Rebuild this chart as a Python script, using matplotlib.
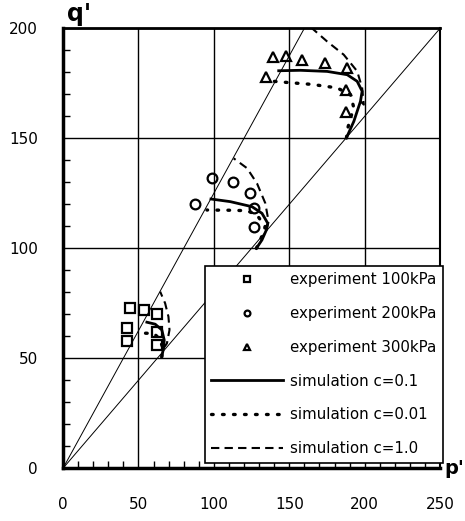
#Script: p'-q' stress paths, experiment vs simulation
import matplotlib.pyplot as plt
import numpy as np
from matplotlib.ticker import MultipleLocator

#Experiment data (p', q')
p_100 = [44.5, 53.8, 62.6, 42.3, 42.3, 62.6, 62.6]
q_100 = [73.0, 72.0, 70.0, 63.9, 58.0, 62.1, 56.0]
p_200 = [98.7, 112.4, 124.2, 87.2, 126.8, 126.8]
q_200 = [132.1, 130.0, 125.0, 120.0, 118.2, 109.8]
p_300 = [139.2, 147.9, 158.5, 173.5, 188.4, 134.6, 187.7, 187.7]
q_300 = [186.8, 187.4, 185.6, 184.1, 181.8, 177.7, 172.0, 162.1]

#Simulation c=0.1 (solid)
sp_100 = [65.5, 66.6, 67.1, 65.5, 61.1, 55.6]
sq_100 = [50.7, 54.5, 58.3, 62.9, 65.5, 66.4]
sp_200 = [128.2, 131.9, 134.8, 135.7, 131.9, 125.3, 110.9, 98.1]
sq_200 = [100.0, 103.8, 108.3, 111.4, 115.9, 118.9, 121.2, 122.4]
sp_300 = [187.9, 192.8, 197.2, 198.3, 195.0, 188.4, 175.1, 157.4, 143.0]
sq_300 = [150.2, 157.7, 166.8, 171.4, 175.9, 178.9, 180.4, 180.9, 180.7]

#Simulation c=0.01 (dotted)
dp_100 = [65.5, 66.0, 64.0, 60.0, 54.4]
dq_100 = [50.7, 55.0, 59.0, 61.3, 61.4]
dp_200 = [128.2, 131.0, 134.1, 128.6, 122.0, 110.0, 95.4]
dq_200 = [100.0, 104.0, 109.8, 115.1, 117.1, 117.3, 117.4]
dp_300 = [187.9, 188.8, 190.6, 192.8, 190.6, 181.7, 165.0, 150.0, 139.6]
dq_300 = [150.2, 154.7, 159.2, 163.8, 169.8, 172.9, 174.5, 175.3, 175.9]

#Simulation c=1.0 (dashed)
cp_100 = [66.6, 68.9, 70.6, 69.9, 67.7, 64.4]
cq_100 = [54.5, 56.8, 62.9, 68.9, 75.0, 80.3]
cp_200 = [134.8, 136.3, 134.1, 128.6, 122.0, 113.1]
cq_200 = [108.3, 112.1, 120.5, 129.5, 136.4, 140.9]
cp_300 = [197.2, 199.4, 198.3, 195.0, 186.1, 175.1, 165.1, 162.0]
cq_300 = [166.8, 165.3, 172.9, 180.5, 188.0, 194.0, 200.0, 203.0]

#Reference lines through origin
p_line = np.array([0, 250])
slope_a = 1.25
slope_b = 0.8

fig = plt.figure(figsize=(4.65, 5.21), dpi=100)
ax = fig.add_axes([0.1355, 0.1012, 0.811, 0.8445])

ax.plot(p_line, slope_a * p_line, color='k', lw=0.7)
ax.plot(p_line, slope_b * p_line, color='k', lw=0.7)

mk = dict(linestyle='none', markerfacecolor='none', markeredgecolor='k', markeredgewidth=1.6, markersize=7)
ax.plot(p_100, q_100, marker='s', label='experiment 100kPa', **mk)
ax.plot(p_200, q_200, marker='o', label='experiment 200kPa', **mk)
ax.plot(p_300, q_300, marker='^', label='experiment 300kPa', **mk)

for i, (x, y) in enumerate([(sp_100, sq_100), (sp_200, sq_200), (sp_300, sq_300)]):
    ax.plot(x, y, color='k', lw=2, label='simulation c=0.1' if i == 0 else None)
for i, (x, y) in enumerate([(dp_100, dq_100), (dp_200, dq_200), (dp_300, dq_300)]):
    ax.plot(x, y, color='k', lw=2.4, linestyle=(0, (0.5, 2.8)), dash_capstyle='round',
            label='simulation c=0.01' if i == 0 else None)
for i, (x, y) in enumerate([(cp_100, cq_100), (cp_200, cq_200), (cp_300, cq_300)]):
    ax.plot(x, y, color='k', lw=1.5, linestyle=(0, (4, 2.5)),
            label='simulation c=1.0' if i == 0 else None)

#Axes configuration
ax.set_xlim(0, 250)
ax.set_ylim(0, 200)
ax.xaxis.set_major_locator(MultipleLocator(50))
ax.yaxis.set_major_locator(MultipleLocator(50))
ax.xaxis.set_minor_locator(MultipleLocator(10))
ax.yaxis.set_minor_locator(MultipleLocator(10))
ax.grid(which='major', color='k', lw=1)
ax.tick_params(which='major', length=0, labelsize=11)
ax.tick_params(axis='x', which='major', pad=21)
ax.tick_params(axis='y', which='major', pad=18)
ax.tick_params(which='minor', direction='in', length=5, width=1)
ax.tick_params(axis='x', which='minor', top=False)
ax.tick_params(axis='y', which='minor', right=False)
ax.spines['left'].set_linewidth(2.5)
ax.spines['bottom'].set_linewidth(2.5)
ax.spines['top'].set_linewidth(2)
ax.spines['right'].set_linewidth(1.5)

ax.text(0.01, 1.005, "q'", transform=ax.transAxes, fontsize=17, fontweight='bold', va='bottom', ha='left')
ax.text(1.012, 0.022, "p'", transform=ax.transAxes, fontsize=14, fontweight='bold', va='top', ha='left')

leg = ax.legend(loc='lower right', bbox_to_anchor=(1.008, 0.012), borderaxespad=0, fontsize=10.8,
                frameon=True, fancybox=False, edgecolor='k', framealpha=1,
                handlelength=4.8, handletextpad=0.45, labelspacing=1.25,
                borderpad=0.45, markerscale=0.6)
leg.get_frame().set_linewidth(1.2)

plt.savefig('out.png', dpi=100)
